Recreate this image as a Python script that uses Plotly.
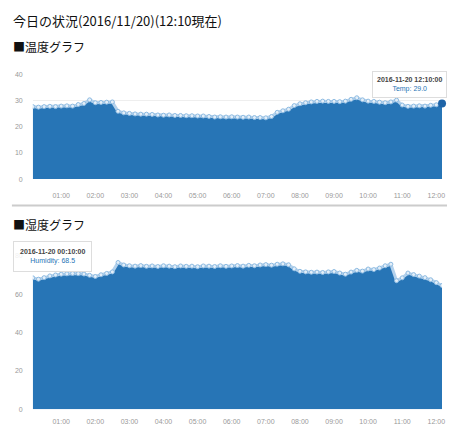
import pandas as pd
import plotly.graph_objects as go

# ---- data ----
times = pd.date_range("2016-11-20 00:10", "2016-11-20 12:10", freq="10min")

temp = [27.8, 27.6, 27.8, 27.9, 27.8, 28.0, 28.1, 28.0, 28.6, 29.0,
        30.4, 29.3, 29.4, 29.5, 29.6, 26.0, 25.4, 25.2, 25.0, 24.9,
        24.9, 24.8, 24.6, 24.5, 24.6, 24.4, 24.4, 24.3, 24.3, 24.2,
        24.2, 24.0, 23.8, 23.9, 23.8, 23.9, 23.8, 23.7, 23.8, 23.6,
        23.6, 23.5, 24.0, 25.6, 26.2, 26.8, 28.2, 28.9, 29.3, 29.6,
        29.8, 29.9, 29.8, 29.8, 29.7, 29.9, 30.6, 31.2, 30.4, 29.9,
        29.8, 29.5, 29.3, 29.6, 30.3, 28.4, 27.9, 28.0, 28.1, 28.0,
        28.3, 28.5, 29.0]

humidity = [68.5, 67.8, 68.6, 69.5, 70.0, 70.4, 70.6, 70.8, 70.7, 70.5,
            69.8, 69.2, 70.1, 70.8, 71.6, 76.5, 75.2, 74.8, 74.6, 74.9,
            74.5, 74.7, 74.4, 74.8, 74.6, 74.3, 74.7, 74.5, 74.6, 74.3,
            74.7, 74.6, 74.4, 74.8, 74.5, 74.7, 74.9, 74.6, 75.0, 74.8,
            75.2, 75.4, 75.1, 75.6, 75.8, 75.3, 73.2, 71.9, 71.6, 71.4,
            71.5, 71.3, 71.6, 71.8, 71.0, 70.4, 71.5, 72.4, 72.0, 73.1,
            72.8, 73.6, 74.8, 75.6, 67.0, 68.5, 71.0, 70.2, 69.4, 68.6,
            67.5, 66.0, 64.5]

temp_ticks = [0, 10, 20, 30, 40]
hum_ticks = [0, 20, 40, 60, 80]
hour_ticks = pd.date_range("2016-11-20 01:00", "2016-11-20 12:00", freq="1h")
hour_labels = [t.strftime("%H:%M") for t in hour_ticks]

page_title = "今日の状況(2016/11/20)(12:10現在)"
temp_heading = "■温度グラフ"
hum_heading = "■湿度グラフ"

FILL = "#2775b6"
LINE = "#b3d1ec"
W, H = 450, 425


def px(x):  # window pixel from left -> paper
    return x / W


def py(y):  # window pixel from top -> paper
    return (H - y) / H


fig = go.Figure()

fig.add_trace(go.Scatter(
    x=times, y=temp, xaxis="x", yaxis="y", fill="tozeroy",
    fillcolor=FILL, mode="lines+markers",
    line=dict(color=LINE, width=3),
    marker=dict(size=4, color="#e3eef8", line=dict(color="#8dbbe2", width=1)),
    hoverinfo="skip", showlegend=False))
fig.add_trace(go.Scatter(
    x=[times[-1]], y=[temp[-1]], xaxis="x", yaxis="y", mode="markers",
    marker=dict(size=8, color="#1e64a8"), hoverinfo="skip", showlegend=False,
    cliponaxis=False))

fig.add_trace(go.Scatter(
    x=times, y=humidity, xaxis="x2", yaxis="y2", fill="tozeroy",
    fillcolor=FILL, mode="lines+markers",
    line=dict(color=LINE, width=3),
    marker=dict(size=4, color="#e3eef8", line=dict(color="#8dbbe2", width=1)),
    hoverinfo="skip", showlegend=False))

tickfont = dict(family="Liberation Sans, Arial, sans-serif", size=7, color="#999")
xcommon = dict(type="date", range=[times[0], times[-1]], tickvals=list(hour_ticks),
               ticktext=hour_labels, showgrid=False, zeroline=False, showline=False,
               ticks="", tickfont=tickfont, domain=[px(33), px(445)])
ycommon = dict(showgrid=True, gridcolor="#eeeeee", gridwidth=1, zeroline=False,
               showline=False, ticks="", tickfont=tickfont, ticklabelstandoff=9)

fig.update_layout(
    width=W, height=H, margin=dict(l=0, r=0, t=0, b=0),
    paper_bgcolor="white", plot_bgcolor="white",
    xaxis=dict(**xcommon, anchor="y", ticklabelstandoff=11),
    yaxis=dict(**ycommon, range=[0, 40], tickvals=temp_ticks,
               domain=[py(178), py(72)], anchor="x"),
    xaxis2=dict(**xcommon, anchor="y2", ticklabelstandoff=7),
    yaxis2=dict(**ycommon, range=[0, 80], tickvals=hum_ticks,
                domain=[py(412), py(256)], anchor="x2"),
)

head_font = dict(family="Noto Sans CJK JP", size=12, color="#111")
fig.add_annotation(text=page_title, xref="paper", yref="paper", x=px(11), y=py(17),
                   xanchor="left", yanchor="middle", showarrow=False,
                   font=dict(family="Noto Sans CJK JP", size=13, color="#111"))
fig.add_annotation(text=temp_heading, xref="paper", yref="paper", x=px(11), y=py(43),
                   xanchor="left", yanchor="middle", showarrow=False, font=head_font)
fig.add_annotation(text=hum_heading, xref="paper", yref="paper", x=px(11), y=py(224),
                   xanchor="left", yanchor="middle", showarrow=False, font=head_font)

fig.add_shape(type="line", xref="paper", yref="paper", x0=px(12), x1=1,
              y0=py(205), y1=py(205), line=dict(color="#cccccc", width=2))

tip_font = dict(family="Liberation Sans, Arial, sans-serif", size=7, color="#444")
fig.add_annotation(
    text=f"<b>2016-11-20 12:10:00</b><br><span style='color:{FILL}'>Temp: {temp[-1]:.1f}</span>",
    xref="paper", yref="paper", x=1.0, y=py(82), xanchor="right", yanchor="middle",
    showarrow=False, align="center", font=tip_font,
    bgcolor="rgba(255,255,255,0.85)", bordercolor="#dddddd", borderwidth=1, borderpad=4)
fig.add_annotation(
    text=f"<b>2016-11-20 00:10:00</b><br><span style='color:{FILL}'>Humidity: {humidity[0]:.1f}</span>",
    xref="paper", yref="paper", x=px(13), y=py(257), xanchor="left", yanchor="middle",
    showarrow=False, align="center", font=tip_font,
    bgcolor="rgba(255,255,255,0.85)", bordercolor="#dddddd", borderwidth=1, borderpad=6)

fig.write_html(
    "out.html",
    config={"displayModeBar": False},
    post_script="document.body.style.margin='0';document.body.style.overflow='hidden';"
                "document.documentElement.style.overflow='hidden';",
)
